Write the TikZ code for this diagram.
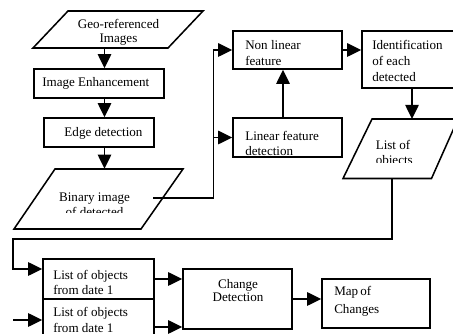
\documentclass[tikz,border=0pt]{standalone}
\usepackage{fontspec}
\setmainfont{Liberation Serif}
\usetikzlibrary{arrows.meta}
\newcommand\myft[1]{\fontsize{9.8pt}{#1}\selectfont}
\tikzset{
  shp/.style={draw, line width=1.15pt, inner sep=0},
  hit/.style={inner sep=0},
  txt/.style={inner sep=0, align=left},
  ln/.style={line width=1.15pt},
  arr/.style={line width=1.15pt, -{Triangle[length=10.5pt,width=10pt]}},
}
\begin{document}
\begin{tikzpicture}[x=0.75pt,y=-0.75pt]
\useasboundingbox (0,0) rectangle (453,334);
% column coordinates
\coordinate (colx) at (104.5,0);
\coordinate (colm) at (283,0);
\coordinate (colb) at (392,0);
\coordinate (ya) at (0,269);
\coordinate (yb) at (0,327);
\coordinate (yc) at (0,320);
\coordinate (binout) at (153,198);
\coordinate (busb) at (213.5,198);
\coordinate (busl) at (13,239);

% parallelograms
\draw[ln] (68,11) -- (203,11) -- (168,48) -- (33,48) -- cycle;
\node[hit, minimum width=75pt, minimum height=27.75pt] (geo) at (118,29.5) {};
\draw[ln] (55,169) -- (183,169) -- (141,229) -- (14,229) -- cycle;
\node[hit, minimum width=60pt, minimum height=45pt] (bin) at (98,199) {};
\draw[ln] (372,119) -- (458,119) -- (431.5,178.5) -- (343,178.5) -- cycle;
\node[hit, minimum width=60pt, minimum height=44.25pt] (lst) at (402,148.75) {};

% boxes
\node[shp, minimum width=97.5pt, minimum height=21.75pt] (ie) at (99,83.5) {};
\node[shp, minimum width=82.5pt, minimum height=21.75pt] (ed) at (99,132.5) {};
\node[shp, minimum width=81.75pt, minimum height=28.5pt] (nl) at (287.5,50) {};
\node[shp, minimum width=81.75pt, minimum height=29.25pt] (lin) at (287.5,137.5) {};
\node[shp, minimum width=75pt, minimum height=42.75pt] (id) at (412,59.5) {};
\node[shp, minimum width=83.25pt, minimum height=30pt] (l1) at (98.5,279) {};
\node[shp, minimum width=83.25pt, minimum height=34.5pt] (l2) at (98.5,322) {};
\node[shp, minimum width=81.75pt, minimum height=45pt] (ch) at (237.5,299) {};
\node[shp, minimum width=81pt, minimum height=36.75pt] (map) at (376,303.5) {};

% texts
\node[txt, align=center, font=\myft{10.5pt}] (geot) at (118.5,32) {Geo-referenced\\Images};
\node[txt, anchor=west, font=\myft{12pt}] (iet) at (42,83) {Image Enhancement};
\node[txt, align=center, font=\myft{12pt}] (edt) at (103.5,133) {Edge detection};
\begin{scope}
  \clip (0,0) rectangle (453,213);
  \node[txt, align=center, font=\myft{11.25pt}] (bint) at (94.5,204.5) {Binary image\\of detected};
\end{scope}
\node[txt, anchor=west, font=\myft{12pt}] (nlt) at (245,53) {Non linear\\feature};
\node[txt, anchor=west, font=\myft{11.25pt}] (lint) at (245,143.5) {Linear feature\\detection};
\node[txt, anchor=west, font=\myft{12pt}] (idt) at (372,61) {Identification\\of each\\detected};
\begin{scope}
  \clip (0,0) rectangle (453,163);
  \node[txt, anchor=west, font=\myft{11.25pt}] (lstt) at (375.5,154) {List of\\objects};
\end{scope}
\node[txt, anchor=west, font=\myft{11.25pt}] (l1t) at (53,282.5) {List of objects\\from date 1};
\node[txt, anchor=west, font=\myft{12pt}] (l2t) at (53,320) {List of objects\\from date 1};
\node[txt, align=center, font=\myft{8.5pt}] (cht) at (238,290.5) {Change\\Detection};
\node[txt, anchor=west, font=\myft{13.5pt}] (mapt) at (334,301) {Map\,of\\Changes};

% connectors
\draw[arr] (geo.south -| colx) -- (ie.north -| colx);
\draw[arr] (ie.south -| colx) -- (ed.north -| colx);
\draw[arr] (ed.south -| colx) -- (bin.north -| colx);
\draw[arr] (binout) -- (busb) |- (nl.west);
\draw[arr] (busb |- lin.west) -- (lin.west);
\draw[arr] (lin.north -| colm) -- (nl.south -| colm);
\draw[arr] (nl.east) -- (id.west |- nl.east);
\draw[arr] (id.south) -- (lst.north -| id.south);
\draw[arr] (lst.south -| colb) |- (busl) |- (l1.west |- ya);
\draw[arr] (busl |- yc) -- (l2.west |- yc);
\draw[arr] (l1.east) -- (ch.west |- l1.east);
\draw[arr] (l2.east |- yb) -- (ch.west |- yb);
\draw[arr] (ch.east) -- (map.west |- ch.east);
\end{tikzpicture}
\end{document}
